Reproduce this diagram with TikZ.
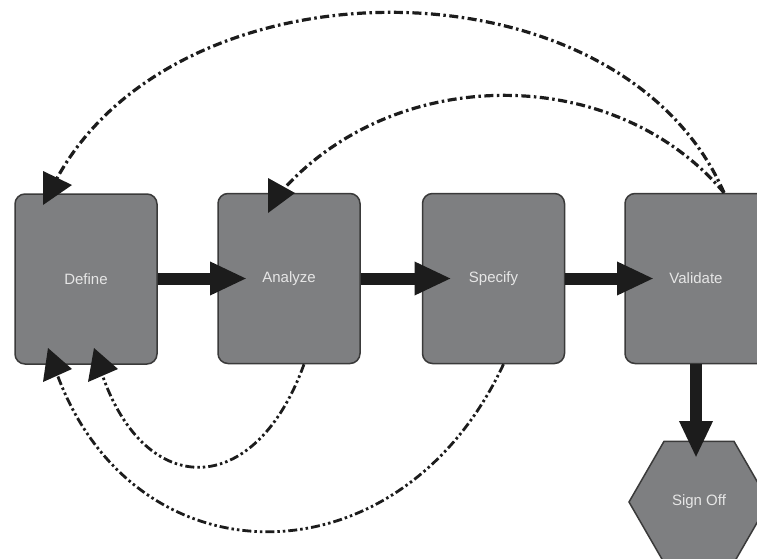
\documentclass[tikz,border=0pt]{standalone}
\usepackage{fontspec}
\setmainfont{Liberation Sans}
\usetikzlibrary{arrows.meta,shapes.geometric,calc}
\definecolor{boxfill}{RGB}{126,127,129}
\definecolor{boxline}{RGB}{58,58,58}
\definecolor{ink}{RGB}{28,28,28}
\definecolor{labelcol}{RGB}{230,230,230}
\begin{document}
\begin{tikzpicture}[x=1pt,y=-1pt,
  stage/.style={draw=boxline, line width=1.5pt, fill=boxfill, rounded corners=10pt,
    minimum width=142pt, minimum height=170pt, inner sep=0pt, text=labelcol,
    font=\fontsize{15}{17}\selectfont},
  hexa/.style={regular polygon, regular polygon sides=6, minimum size=140pt,
    draw=boxline, line width=1.5pt, fill=boxfill, inner sep=0pt, text=labelcol,
    font=\fontsize{15}{17}\selectfont},
  flow/.style={draw=ink, line width=12pt, -{Triangle[length=37pt,width=31pt]}, shorten >=42pt},
  loopa/.style={draw=ink, line width=3.2pt, dash pattern=on 9pt off 3.5pt on 2.5pt off 3.5pt},
  loopb/.style={draw=ink, line width=2.8pt, dash pattern=on 9pt off 3pt on 2.5pt off 3pt on 2.5pt off 3pt},
  tiphead/.style={fill=ink}]
\clip (0,0) rectangle (757,559);
\fill[white] (0,0) rectangle (757,559);
% stages
\node[stage] (define) at (86,279) {Define};
\node[stage] (analyze) at (289,278.5) {Analyze};
\node[stage] (specify) at (493.5,278.5) {Specify};
\node[stage] (validate) at (696,278.5) {Validate};
\node[hexa] (signoff) at (699,502) {Sign Off};
% main flow
\draw[flow] (define.east |- analyze.center) -- (analyze.center);
\draw[flow] (analyze.east) -- (specify.center);
\draw[flow] (specify.east) -- (validate.center);
\draw[flow, shorten >=44pt] (validate.south) -- (validate.south |- signoff.center);
% feedback loops
\coordinate (vtop) at ($(validate.north)+(28,0)$);
\coordinate (abot) at ($(analyze.south)+(15,0)$);
\coordinate (sbot) at ($(specify.south)+(10,0)$);
\coordinate (e1) at (55,182);
\coordinate (e2) at (281,192);
\coordinate (e3) at (57,374);
\coordinate (e4) at (102,374);
\draw[loopa] (vtop) .. controls (620,-46) and (175,-46) .. (e1);
\draw[loopa] (vtop) .. controls (615,63) and (395,63) .. (e2);
\draw[loopb] (abot) .. controls (255,500) and (145,500) .. (e4);
\draw[loopb] (sbot) .. controls (400,586) and (135,586) .. (e3);
% arrow heads
\fill[tiphead] (43,171) -- (72,185) -- (43,205) -- cycle;
\fill[tiphead] (268,178) -- (295,193) -- (268,213) -- cycle;
\fill[tiphead] (48,348) -- (72,369) -- (43,382) -- cycle;
\fill[tiphead] (94,348) -- (118,369) -- (88,382) -- cycle;
\end{tikzpicture}
\end{document}
